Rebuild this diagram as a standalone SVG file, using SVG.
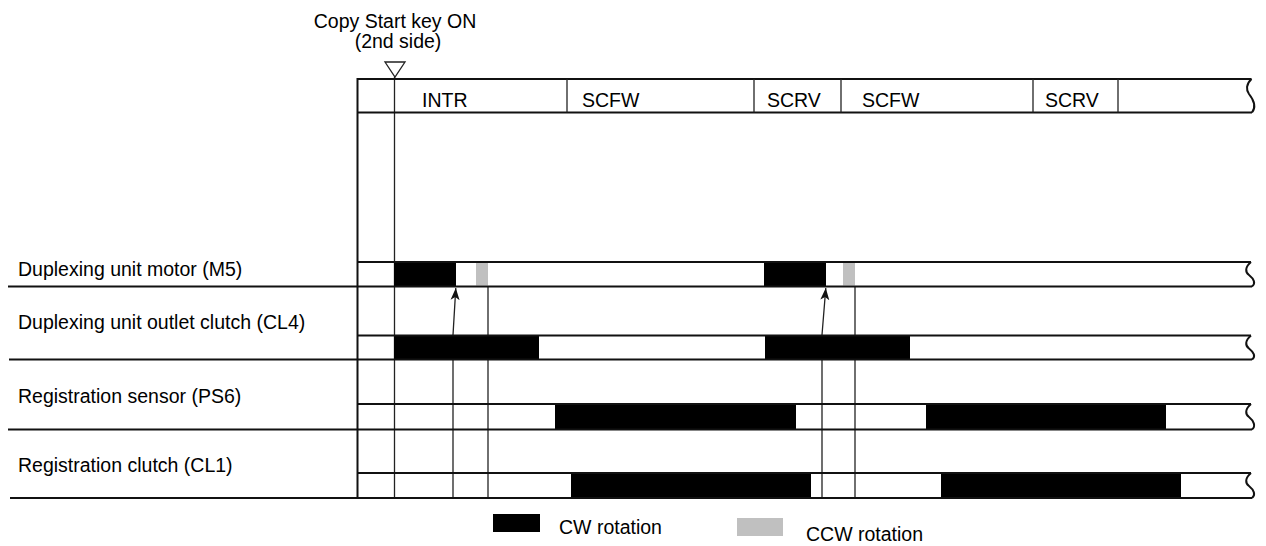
<svg xmlns="http://www.w3.org/2000/svg" width="1266" height="546" viewBox="0 0 1266 546">
<style>
.lbl{font-family:"Liberation Sans",Arial,Helvetica,sans-serif;font-size:19.5px;fill:#000}
.thick{stroke:#111;stroke-width:2;fill:none}
.thin{stroke:#222;stroke-width:1.3;fill:none}
.cw{fill:#000}
.ccw{fill:#c0c0c0}
.mid{text-anchor:middle}
</style>
<defs>
<marker id="ah" markerUnits="userSpaceOnUse" markerWidth="14" markerHeight="10" refX="12" refY="5" orient="auto" viewBox="0 0 14 10">
<path d="M0,0.5 L12,5 L0,9.5 L3,5 Z" fill="#111"/>
</marker>
</defs>
<rect width="1266" height="546" fill="#fff"/>

<g id="trigger">
<text class="lbl mid" x="395" y="28">Copy Start key ON</text>
<text class="lbl mid" x="398" y="47.5">(2nd side)</text>
<polygon points="385,62 405,62 395,77" fill="#fff" stroke="#222" stroke-width="1.3"/>
</g>

<g id="connectors">
<line class="thin" x1="394.5" y1="77" x2="394.5" y2="498"/>
<line class="thin" x1="488" y1="286" x2="488" y2="498"/>
<line class="thin" x1="855" y1="286" x2="855" y2="498"/>
<polyline class="thin" points="453,498 453,335 455.8,288" marker-end="url(#ah)"/>
<polyline class="thin" points="822,498 822,335 825.8,288" marker-end="url(#ah)"/>
</g>

<g id="header">
<line class="thick" x1="357" y1="79" x2="1251.5" y2="79"/>
<line class="thick" x1="357" y1="112.5" x2="1252" y2="112.5"/>
<path class="thick" d="M1251.5,79 C1246,84 1246,90 1249,94 C1253,99 1257,106 1252,112.5"/>
<line class="thin" x1="567" y1="79" x2="567" y2="112.5"/>
<line class="thin" x1="754" y1="79" x2="754" y2="112.5"/>
<line class="thin" x1="841" y1="79" x2="841" y2="112.5"/>
<line class="thin" x1="1033" y1="79" x2="1033" y2="112.5"/>
<line class="thin" x1="1118" y1="79" x2="1118" y2="112.5"/>
<text class="lbl" x="422" y="106.5">INTR</text>
<text class="lbl" x="582" y="106.5">SCFW</text>
<text class="lbl" x="767" y="106.5">SCRV</text>
<text class="lbl" x="862" y="106.5">SCFW</text>
<text class="lbl" x="1045" y="106.5">SCRV</text>
</g>

<g id="row-m5">
<text class="lbl" x="18" y="276">Duplexing unit motor (M5)</text>
<rect class="cw" x="394" y="262" width="62" height="24.5"/>
<rect class="cw" x="764" y="262" width="62" height="24.5"/>
<rect class="ccw" x="476" y="263" width="12" height="22.5"/>
<rect class="ccw" x="843" y="263" width="12" height="22.5"/>
<line class="thick" x1="357" y1="262" x2="1251" y2="262"/>
<line class="thick" x1="8" y1="286.5" x2="1252" y2="286.5"/>
<path class="thick" d="M1251,262 C1245,267 1245,272 1249,275 C1254,279 1256,283.5 1252,286.5"/>
</g>

<g id="row-cl4">
<text class="lbl" x="18" y="329">Duplexing unit outlet clutch (CL4)</text>
<rect class="cw" x="394" y="335.5" width="145" height="24"/>
<rect class="cw" x="765" y="335.5" width="145" height="24"/>
<line class="thick" x1="357" y1="335.5" x2="1251" y2="335.5"/>
<line class="thick" x1="9" y1="359.5" x2="1252" y2="359.5"/>
<path class="thick" d="M1251,335.5 C1245,340.5 1245,345.5 1249,348.5 C1254,352.5 1256,356.5 1252,359.5"/>
</g>

<g id="row-ps6">
<text class="lbl" x="18" y="402.5">Registration sensor (PS6)</text>
<rect class="cw" x="555" y="404" width="241" height="25.5"/>
<rect class="cw" x="926" y="404" width="240" height="25.5"/>
<line class="thick" x1="357" y1="404" x2="1251" y2="404"/>
<line class="thick" x1="8" y1="429.5" x2="1252" y2="429.5"/>
<path class="thick" d="M1251,404 C1245,409 1245,414 1249,417 C1254,421 1256,426.5 1252,429.5"/>
</g>

<g id="row-cl1">
<text class="lbl" x="18" y="472">Registration clutch (CL1)</text>
<rect class="cw" x="571" y="473" width="240" height="25"/>
<rect class="cw" x="941" y="473" width="240" height="25"/>
<line class="thick" x1="357" y1="473" x2="1251" y2="473"/>
<line class="thick" x1="10" y1="498" x2="1252" y2="498"/>
<path class="thick" d="M1251,473 C1245,478 1245,483 1249,486 C1254,490 1256,495 1252,498"/>
</g>

<line id="time-axis" class="thick" x1="357.5" y1="78" x2="357.5" y2="499"/>

<g id="legend">
<rect class="cw" x="493" y="514" width="47" height="18"/>
<text class="lbl" x="559" y="534">CW rotation</text>
<rect class="ccw" x="737" y="518" width="46" height="18"/>
<text class="lbl" x="806" y="541">CCW rotation</text>
</g>
</svg>
